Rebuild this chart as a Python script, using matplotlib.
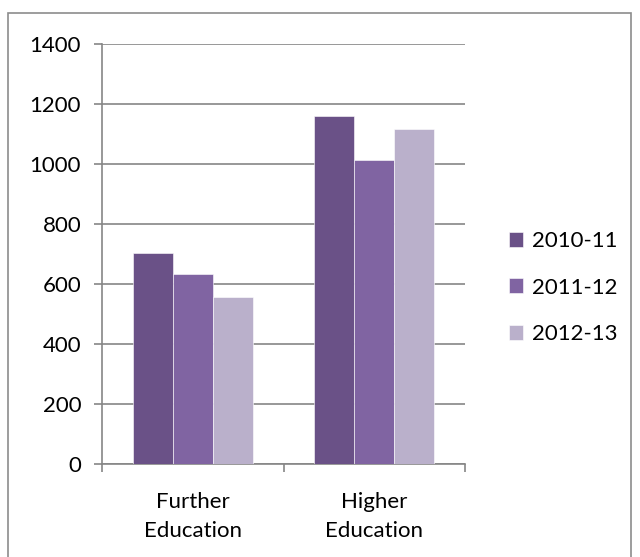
import numpy as np
import matplotlib.pyplot as plt
from matplotlib.patches import Rectangle

categories = ["Further\nEducation", "Higher\nEducation"]
series = ["2010-11", "2011-12", "2012-13"]
values_2010 = [705, 1160]
values_2011 = [632, 1015]
values_2012 = [556, 1117]
colors = ["#6A5187", "#8064A2", "#BAB0CB"]

plt.rcParams['font.family'] = ['Lato', 'DejaVu Sans']

fig = plt.figure(figsize=(6.4, 5.57), dpi=100)
ax = fig.add_axes([102/640, 1 - 464/557, (465-102)/640, (464-44)/557])

# outer chart border
fig.patches.append(Rectangle((8/640, -0.01), (631-8)/640, 1 - 13/557 + 0.01,
                             transform=fig.transFigure, fill=False,
                             edgecolor="#8C8C8C", linewidth=1.2))

x = np.arange(len(categories))
w = 40/182
allvals = [values_2010, values_2011, values_2012]
for i, (vals, name) in enumerate(zip(allvals, series)):
    ax.bar(x + (i - 1) * w, vals, w, color=colors[i], label=name,
           edgecolor="white", linewidth=0.4, zorder=3)

ax.set_xlim(-0.5, 1.5)
ax.set_ylim(0, 1400)
ax.set_yticks(range(0, 1401, 200))
ax.yaxis.grid(True, color="#868686", linewidth=1.2, zorder=0)
ax.set_axisbelow(True)

for s in ["top", "right"]:
    ax.spines[s].set_visible(False)
for s in ["left", "bottom"]:
    ax.spines[s].set_color("#868686")
    ax.spines[s].set_linewidth(1.2)

ax.set_xticks([-0.5, 0.5, 1.5])
ax.set_xticklabels([])
ax.set_xticks(x, minor=True)
ax.set_xticklabels(categories, minor=True, fontsize=16, linespacing=1.55)
ax.tick_params(axis="x", which="minor", length=0, pad=20)
ax.tick_params(axis="x", which="major", length=6, color="#868686", width=1.2)
ax.tick_params(axis="y", length=6, color="#868686", width=1.2, labelsize=16, pad=9)

ax.legend(loc="center left", bbox_to_anchor=(1.065, 0.42), frameon=False,
          fontsize=16, handlelength=0.65, handleheight=0.65, handletextpad=0.4,
          labelspacing=1.2)

fig.savefig("out.png", dpi=100)
